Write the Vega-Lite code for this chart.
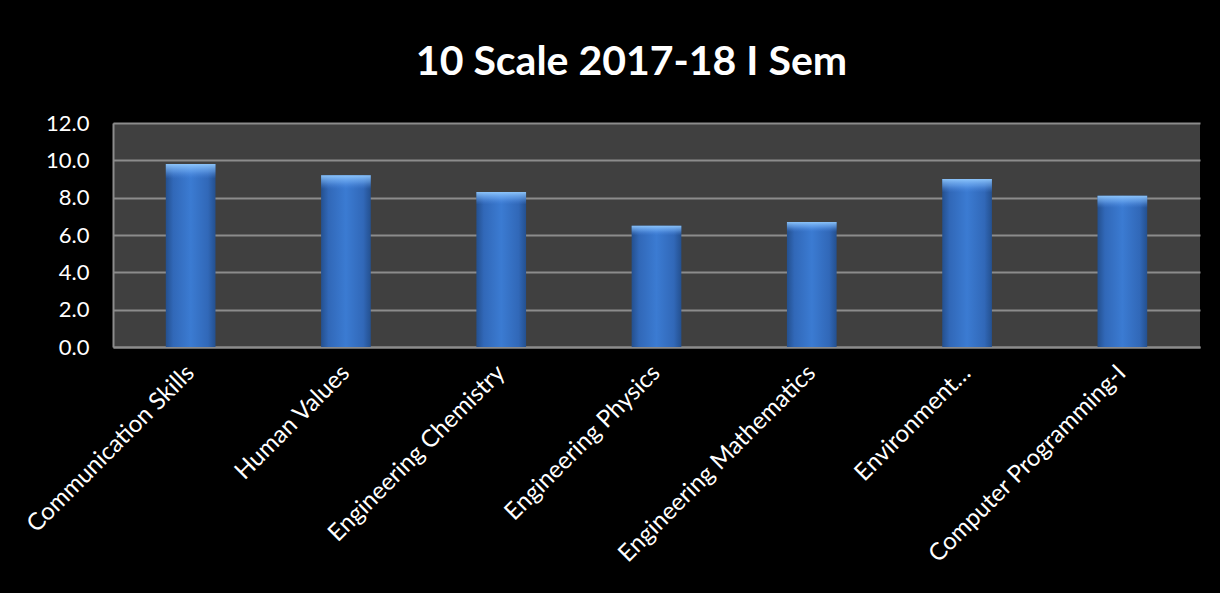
{
  "$schema": "https://vega.github.io/schema/vega-lite/v6.json",
  "autosize": {"type": "none"},
  "padding": {"left": 113, "top": 123, "right": 20, "bottom": 246},
  "width": 1087,
  "height": 224,
  "background": "#000000",
  "title": {
    "text": "10 Scale 2017-18 I Sem",
    "font": "Lato",
    "fontSize": 41,
    "fontWeight": "bold",
    "color": "#ffffff",
    "anchor": "middle",
    "dx": -25,
    "offset": 28
  },
  "data": {
    "values": [
      {"subject": "Communication Skills", "score": 9.8},
      {"subject": "Human Values", "score": 9.2},
      {"subject": "Engineering Chemistry", "score": 8.3},
      {"subject": "Engineering Physics", "score": 6.5},
      {"subject": "Engineering Mathematics", "score": 6.7},
      {"subject": "Environment…", "score": 9.0},
      {"subject": "Computer Programming-I", "score": 8.1}
    ]
  },
  "encoding": {
    "x": {
      "field": "subject",
      "type": "nominal",
      "sort": null,
      "scale": {"paddingInner": 0.68, "paddingOuter": 0.34},
      "axis": {
        "title": null,
        "labelAngle": -45,
        "labelAlign": "right",
        "labelBaseline": "middle",
        "labelFont": "Lato",
        "labelFontSize": 24,
        "labelColor": "#ffffff",
        "labelPadding": 22,
        "labelLimit": 400,
        "ticks": false,
        "domainColor": "#8c8c8c",
        "domainWidth": 2
      }
    },
    "y": {
      "field": "score",
      "type": "quantitative",
      "scale": {"domain": [0, 12], "nice": false},
      "axis": {
        "title": null,
        "values": [0, 2, 4, 6, 8, 10, 12],
        "format": ".1f",
        "labelFont": "Lato",
        "labelFontSize": 22,
        "labelColor": "#ffffff",
        "labelPadding": 24,
        "ticks": false,
        "grid": true,
        "gridColor": "#8c8c8c",
        "gridWidth": 2,
        "domainColor": "#8c8c8c",
        "domainWidth": 2
      }
    }
  },
  "layer": [
    {
      "mark": {
        "type": "bar",
        "color": {
          "gradient": "linear",
          "x1": 0, "x2": 1, "y1": 0, "y2": 0,
          "stops": [
            {"offset": 0, "color": "#24508f"},
            {"offset": 0.15, "color": "#3168b8"},
            {"offset": 0.5, "color": "#3b7bd2"},
            {"offset": 0.85, "color": "#3168b8"},
            {"offset": 1, "color": "#24508f"}
          ]
        }
      }
    },
    {
      "mark": {
        "type": "bar",
        "color": {
          "gradient": "linear",
          "x1": 0, "x2": 0, "y1": 0, "y2": 1,
          "stops": [
            {"offset": 0, "color": "rgba(150,205,255,0.9)"},
            {"offset": 0.04, "color": "rgba(120,180,250,0.5)"},
            {"offset": 0.08, "color": "rgba(80,140,230,0)"},
            {"offset": 1, "color": "rgba(0,0,0,0)"}
          ]
        }
      }
    }
  ],
  "config": {
    "view": {"fill": "#404040", "stroke": null}
  }
}
